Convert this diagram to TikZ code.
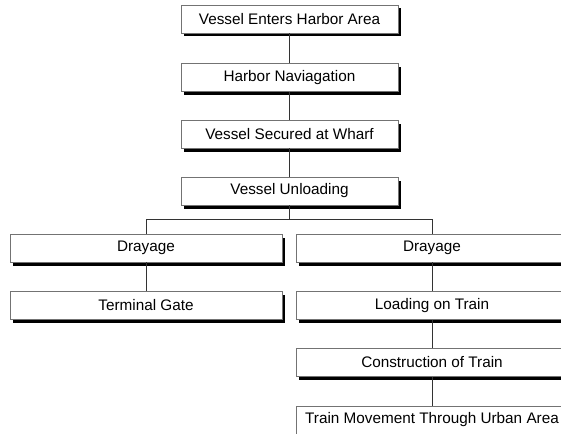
\documentclass[tikz,border=0pt]{standalone}
\usepackage{fontspec}
\setmainfont{Liberation Sans}
\usetikzlibrary{shadows}

\begin{document}
\begin{tikzpicture}[x=1pt, y=-1pt,
    box/.style={draw=black!55, fill=white, line width=0.8pt, minimum height=28pt, inner sep=0pt,
      font=\fontsize{15.3}{18}\selectfont,
      drop shadow={shadow xshift=2.5pt, shadow yshift=-3.5pt, opacity=1, fill=black}},
    link/.style={draw=black!80, line width=0.8pt}]
      \useasboundingbox (0,0) rectangle (561,433);
      \clip (0,0) rectangle (561,433);
      % main chain
      \node[box, minimum width=217pt] (enter) at (289.5,19) {Vessel Enters Harbor Area};
      \node[box, minimum width=217pt] (navig) at (289.5,77.5) {Harbor Naviagation};
      \node[box, minimum width=217pt] (wharf) at (289.5,134) {Vessel Secured at Wharf};
      \node[box, minimum width=217pt] (unload) at (289.5,191) {Vessel Unloading};
      % left branch
      \node[box, minimum width=272pt] (drayL) at (146,248) {Drayage};
      \node[box, minimum width=272pt] (gate) at (146,305.5) {Terminal Gate};
      % right branch
      \node[box, minimum width=272pt] (drayR) at (432,248) {Drayage};
      \node[box, minimum width=272pt] (load) at (432,305.5) {Loading on Train};
      \node[box, minimum width=272pt] (build) at (432,362.5) {Construction of Train};
      \node[box, minimum width=272pt] (urban) at (432,420) {Train Movement Through Urban Area};
      \draw[link] (enter) -- (navig);
      \draw[link] (navig) -- (wharf);
      \draw[link] (wharf) -- (unload);
      \draw[link] (unload.south) -- ++(0,14) coordinate (split);
      \draw[link] (split) -| (drayL.north);
      \draw[link] (split) -| (drayR.north);
      \draw[link] (drayL) -- (gate);
      \draw[link] (drayR) -- (load);
      \draw[link] (load) -- (build);
      \draw[link] (build) -- (urban);
    \end{tikzpicture}
\end{document}
